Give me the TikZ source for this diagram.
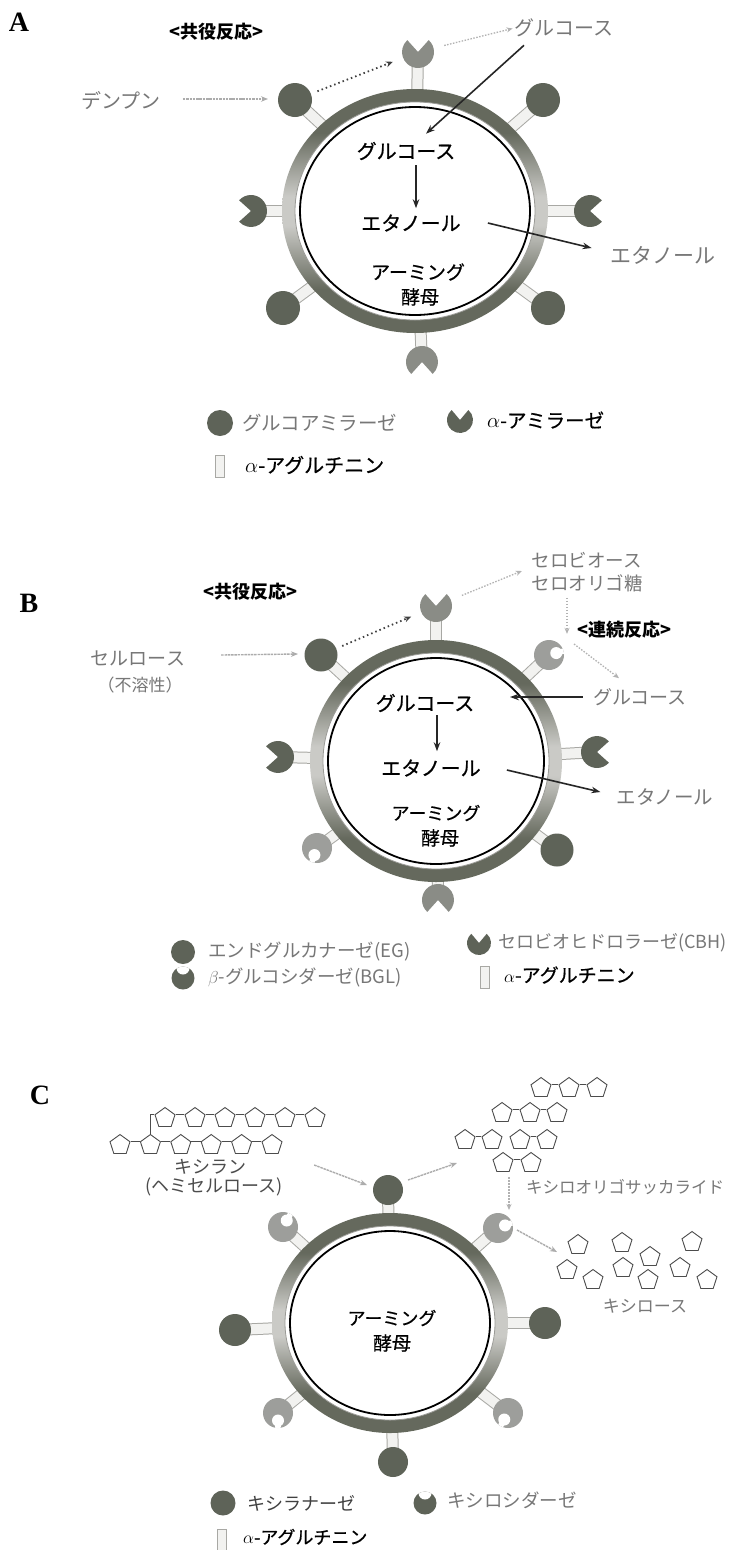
\documentclass[tikz,border=0pt]{standalone}
\usepackage{fontspec}
\newfontfamily\jp{Noto Sans CJK JP}
\newfontfamily\jpm{Noto Sans CJK JP}[FakeBold=0.6]
\newfontfamily\lettfont{Liberation Serif}
\usetikzlibrary{arrows.meta,calc,shapes.geometric}

\definecolor{enzdark}{HTML}{5E6358}
\definecolor{enzmid}{HTML}{8A8C86}
\definecolor{enzlight}{HTML}{9D9E9B}
\definecolor{ringdark}{HTML}{65695D}
\definecolor{ringlight}{HTML}{CACAC6}
\definecolor{ringline}{HTML}{9A9A96}
\definecolor{txtgray}{HTML}{777777}
\definecolor{stalkfill}{HTML}{F2F2F0}
\definecolor{stalkedge}{HTML}{A8A8A4}

\pgfdeclareverticalshading{ringshade}{100bp}{color(0bp)=(ringdark); color(34bp)=(ringdark); color(47bp)=(ringlight); color(53bp)=(ringlight); color(66bp)=(ringdark); color(100bp)=(ringdark)}

\newcommand{\jpsz}[1]{\fontsize{#1}{#1}\selectfont}
% yeast cell wall: shaded band, white gap, black membrane
\newcommand{\yeast}[3]{%
  \shade[shading=ringshade] (#1) ellipse[x radius=#2, y radius=#3];
  \fill[white] (#1) ellipse[x radius=#2-13, y radius=#3-13];
  \draw[ringline, line width=0.8pt] (#1) ellipse[x radius=#2-13, y radius=#3-13];
  \draw[black, line width=1.8pt] (#1) ellipse[x radius=#2-18, y radius=#3-18];}
% anchor protein from cell to enzyme
\newcommand{\stalk}[2]{%
  \draw[line width=12pt, stalkedge, shorten >=6pt] (#1) -- (#2);
  \draw[line width=10pt, stalkfill, shorten >=6pt] (#1) -- (#2);}
% enzyme with a V-shaped cleft (centre, opening direction, colour)
\newcommand{\enzPac}[3]{%
  \fill[#3] (#1) -- ++(#2+42:16) arc[start angle=#2+42, end angle=#2+318, radius=16] -- cycle;}
% enzyme with a round pocket (centre, pocket direction, colour)
\newcommand{\enzCup}[3]{%
  \fill[#3] (#1) circle[radius=15];
  \begin{scope}
    \clip (#1) circle[radius=15];
    \fill[white] ($(#1)+(#2:7.5)$) circle[radius=6];
    \draw[white, line width=5.5pt] ($(#1)+(#2:7.5)$) -- ($(#1)+(#2:18)$);
  \end{scope}}
% legend icon: disc with a wide round bite on top
\newcommand{\legCup}[2]{%
  \fill[#2] (#1) circle[radius=11.5];
  \begin{scope}
    \clip (#1) circle[radius=11.5];
    \fill[white] ($(#1)+(0,-10)$) circle[radius=6.5];
  \end{scope}}
\newcommand{\enzBall}[3]{\fill[#3] (#1) circle[radius=#2];}
\newcommand{\aglut}[1]{%
  \draw[stalkedge, fill=stalkfill, line width=0.8pt] ($(#1)+(-4.5,-11)$) rectangle ($(#1)+(4.5,11)$);}

\begin{document}
\begin{tikzpicture}[x=1pt,y=-1pt,
  panel/.style={font=\lettfont\bfseries\jpsz{28}, inner sep=0pt},
  lbl/.style={font=\jpm\jpsz{20}, inner sep=0pt, text=black},
  glbl/.style={font=\jp\jpsz{20}, inner sep=0pt, text=txtgray},
  blbl/.style={font=\jp\bfseries\jpsz{18}, inner sep=0pt, text=black},
  leg/.style={lbl, anchor=west},
  gleg/.style={glbl, anchor=west},
  barrow/.style={draw=black!85, line width=1.6pt, -{Stealth[length=9pt,width=6.5pt]}},
  garrow/.style={draw=gray!65, line width=1.4pt, dash pattern=on 2.5pt off 0.8pt, -{Stealth[length=7pt,width=5.5pt]}},
  gdot/.style={draw=gray!60, line width=1.3pt, dash pattern=on 1.5pt off 1.5pt, -{Stealth[length=6pt,width=5pt]}},
  darrow/.style={draw=black!75, line width=1.8pt, dash pattern=on 1.5pt off 3pt, -{Stealth[length=7pt,width=6pt]}},
  pent/.style={regular polygon, regular polygon sides=5, minimum size=21pt, draw=black!70, line width=0.9pt, inner sep=0pt},
  link/.style={draw=black!70, line width=0.9pt}]
\fill[white] (0,0) rectangle (739,1550);
\useasboundingbox (0,0) rectangle (739,1550);

% ================= A: starch =================
\node[panel] (A) at (19,22) {A};
\node[blbl] (a-conj) at (216,32) {<共役反応>};
\coordinate (a-c) at (415,211);
\coordinate (a-e1) at (418,52);
\coordinate (a-e2) at (295,100);
\coordinate (a-e3) at (543,100);
\coordinate (a-e4) at (251,211);
\coordinate (a-e5) at (590,211);
\coordinate (a-e6) at (283,308);
\coordinate (a-e7) at (548,308);
\coordinate (a-e8) at (422,362);
\foreach \e in {1,...,8} {\stalk{a-c}{a-e\e}}
\yeast{a-c}{133}{122}
\enzPac{a-e1}{-90}{enzmid}
\enzBall{a-e2}{17}{enzdark}
\enzBall{a-e3}{17}{enzdark}
\enzPac{a-e4}{180}{enzdark}
\enzPac{a-e5}{0}{enzdark}
\enzBall{a-e6}{17}{enzdark}
\enzBall{a-e7}{17}{enzdark}
\enzPac{a-e8}{90}{enzmid}

\node[glbl] (a-starch) at (121,101) {デンプン};
\node[glbl] (a-glc) at (564,28) {グルコース};
\node[lbl] (a-glcin) at (406,151) {グルコース};
\node[lbl] (a-eth) at (411,223) {エタノール};
\node[glbl, font=\jp\jpsz{21}] (a-ethout) at (663,255) {エタノール};
\node[lbl, font=\jpm\jpsz{19}] (a-arm) at (418,272) {アーミング};
\node[lbl, font=\jpm\jpsz{19}] (a-yeast) at (420,297) {酵母};

\draw[garrow] ($(a-starch.east)+(22,-2)$) -- ($(a-e2)+(-27,-1)$);
\draw[darrow, shorten <=24pt, shorten >=27pt] (a-e2) -- (a-e1);
\draw[gdot, shorten <=27pt, shorten >=2pt] (a-e1) -- (a-glc.west);
\draw[barrow] ($(a-glc.south)+(-40,8)$) -- ($(a-glcin.north)+(20,-8)$);
\draw[barrow] ($(a-glcin.south)+(10,5)$) -- ($(a-eth.north)+(5,-6)$);
\draw[barrow] ($(a-eth.east)+(27,0)$) -- ($(a-ethout.west)+(-19,-7)$);

% legend A
\coordinate (a-l1) at (220,423);
\coordinate (a-l2) at (460,420);
\coordinate (a-l3) at (220,466);
\enzBall{a-l1}{13}{enzdark}
\fill[enzdark] (a-l2) -- ++(-50:13) arc[start angle=-50, end angle=230, radius=13] -- cycle;
\aglut{a-l3}
\node[gleg, font=\jp\jpsz{19.5}] (a-t1) at (242,423) {グルコアミラーゼ};
\node[leg, font=\jpm\jpsz{19.5}] (a-t2) at (487,420) {$\alpha$-アミラーゼ};
\node[leg, font=\jpm\jpsz{20}] (a-t3) at (245,465) {$\alpha$-アグルチニン};

% ================= B: cellulose =================
\node[panel] (B) at (29,603) {B};
\node[blbl] (b-conj) at (250,592) {<共役反応>};
\coordinate (b-c) at (436,761);
\coordinate (b-e1) at (436,606);
\coordinate (b-e2) at (321,655);
\coordinate (b-e3) at (549,655);
\coordinate (b-e4) at (278,757);
\coordinate (b-e5) at (597,752);
\coordinate (b-e6) at (317,848);
\coordinate (b-e7) at (557,850);
\coordinate (b-e8) at (438,900);
\foreach \e in {1,...,8} {\stalk{b-c}{b-e\e}}
\yeast{b-c}{126}{121}
\enzPac{b-e1}{-90}{enzmid}
\enzBall{b-e2}{16.5}{enzdark}
\enzCup{b-e3}{-15}{enzlight}
\enzPac{b-e4}{180}{enzdark}
\enzPac{b-e5}{0}{enzdark}
\enzCup{b-e6}{110}{enzlight}
\enzBall{b-e7}{16.5}{enzdark}
\enzPac{b-e8}{90}{enzmid}

\node[glbl, font=\jp\jpsz{19}] (b-cellu) at (138,658) {セルロース};
\node[glbl, font=\jp\jpsz{17}] (b-insol) at (140,685) {（不溶性）};
\node[glbl, font=\jp\jpsz{18.5}] (b-cb) at (587,560) {セロビオース};
\node[glbl, font=\jp\jpsz{18.5}] (b-co) at (587,583) {セロオリゴ糖};
\node[blbl] (b-cont) at (624,630) {<連続反応>};
\node[glbl, font=\jp\jpsz{19}] (b-glc) at (640,697) {グルコース};
\node[lbl] (b-glcin) at (425,703) {グルコース};
\node[lbl] (b-eth) at (431,768) {エタノール};
\node[glbl, font=\jp\jpsz{19.5}] (b-ethout) at (665,797) {エタノール};
\node[lbl, font=\jpm\jpsz{18}] (b-arm) at (436,813) {アーミング};
\node[lbl, font=\jpm\jpsz{19}] (b-yeast) at (440,838) {酵母};

\draw[garrow] ($(b-cellu.east)+(36,-3)$) -- ($(b-e2)+(-23,-1)$);
\draw[darrow, shorten <=23pt, shorten >=27pt] (b-e2) -- (b-e1);
\draw[gdot, shorten <=28pt] (b-e1) -- ($(b-cb.west)+(-10,11)$);
\draw[gdot] ($(b-co.south)+(-20,6)$) -- ($(b-co.south)+(-20,42)$);
\draw[gdot] ($(b-e3)+(25,-11)$) -- ($(b-glc.north)+(-21,-10)$);
\draw[barrow] ($(b-glc.west)+(-10,0)$) -- ($(b-glc.west)+(-83,0)$);
\draw[barrow] ($(b-glcin.south)+(12,3)$) -- ($(b-eth.north)+(6,-8)$);
\draw[barrow] ($(b-eth.east)+(26,2)$) -- ($(b-ethout.west)+(-16,-5)$);

% legend B
\coordinate (b-l1) at (183,952);
\coordinate (b-l2) at (479,943);
\coordinate (b-l3) at (183,978);
\coordinate (b-l4) at (485,977);
\enzBall{b-l1}{12}{enzdark}
\fill[enzdark] (b-l2) -- ++(-50:12) arc[start angle=-50, end angle=230, radius=12] -- cycle;
\legCup{b-l3}{enzdark}
\aglut{b-l4}
\node[gleg, font=\jp\jpsz{18.5}] (b-t1) at (208,952) {エンドグルカナーゼ(EG)};
\node[gleg, font=\jp\jpsz{18}] (b-t2) at (498,943) {セロビオヒドロラーゼ(CBH)};
\node[gleg, font=\jp\jpsz{18.5}] (b-t3) at (208,977) {$\beta$-グルコシダーゼ(BGL)};
\node[leg, font=\jpm\jpsz{19}] (b-t4) at (504,975) {$\alpha$-アグルチニン};

% ================= C: xylan =================
\node[panel] (C) at (40,1095) {C};
% xylan chain
\foreach \i in {1,...,6} {
  \node[pent] (c-t\i) at ({165+30*(\i-1)},1118) {};
  \node[pent] (c-b\i) at ({120+30.4*(\i-1)},1145) {};
}
\foreach \i/\j in {1/2,2/3,3/4,4/5,5/6} {
  \draw[link] (c-t\i.corner 5) -- (c-t\j.corner 2);
  \draw[link] (c-b\i.corner 5) -- (c-b\j.corner 2);
}
\draw[link] (c-b2.corner 1) |- (c-t1.corner 2);
% xylo-oligosaccharides
\node[pent] (c-o11) at (541,1088) {};
\node[pent] (c-o12) at (569,1088) {};
\node[pent] (c-o13) at (597,1088) {};
\node[pent] (c-o21) at (502,1113) {};
\node[pent] (c-o22) at (530,1113) {};
\node[pent] (c-o23) at (557,1113) {};
\node[pent] (c-o31) at (465,1140) {};
\node[pent] (c-o32) at (492,1140) {};
\node[pent] (c-o33) at (520,1140) {};
\node[pent] (c-o34) at (547,1140) {};
\node[pent] (c-o41) at (503,1163) {};
\node[pent] (c-o42) at (531,1163) {};
\foreach \a/\b in {o11/o12,o12/o13,o21/o22,o22/o23,o31/o32,o33/o34,o41/o42}
  \draw[link] (c-\a.corner 5) -- (c-\b.corner 2);
% xylose
\foreach \n/\p in {1/{578,1245},2/{622,1243},3/{692,1242},4/{650,1257},5/{567,1270},6/{623,1268},7/{680,1268},8/{593,1280},9/{648,1280},10/{707,1280}}
  \node[pent] (c-x\n) at (\p) {};

\coordinate (c-c) at (390,1323);
\coordinate (c-e1) at (388,1190);
\coordinate (c-e2) at (283,1227);
\coordinate (c-e3) at (498,1228);
\coordinate (c-e4) at (235,1330);
\coordinate (c-e5) at (545,1323);
\coordinate (c-e6) at (278,1413);
\coordinate (c-e7) at (508,1413);
\coordinate (c-e8) at (393,1462);
\foreach \e in {1,...,8} {\stalk{c-c}{c-e\e}}
\yeast{c-c}{118}{110}
\enzBall{c-e1}{15}{enzdark}
\enzCup{c-e2}{-60}{enzlight}
\enzCup{c-e3}{-20}{enzlight}
\enzBall{c-e4}{16}{enzdark}
\enzBall{c-e5}{16}{enzdark}
\enzCup{c-e6}{90}{enzlight}
\enzCup{c-e7}{120}{enzlight}
\enzBall{c-e8}{15}{enzdark}

\node[glbl, text=black!70, font=\jp\jpsz{18}] (c-xyl) at (210,1167) {キシラン};
\node[glbl, text=black!70, font=\jp\jpsz{18}] (c-hemi) at (214,1187) {(ヘミセルロース)};
\node[glbl, font=\jp\jpsz{16.5}] (c-xos) at (625,1187) {キシロオリゴサッカライド};
\node[glbl, font=\jp\jpsz{17}] (c-xylose) at (645,1306) {キシロース};
\node[lbl, font=\jpm\jpsz{18}] (c-arm) at (392,1318) {アーミング};
\node[lbl, font=\jpm\jpsz{19}] (c-yeast) at (392,1343) {酵母};

\draw[garrow] ($(c-xyl.east)+(68,-2)$) -- ($(c-e1)+(-21,-5)$);
\draw[garrow] ($(c-e1)+(20,-10)$) -- ($(c-o41)+(-46,0)$);
\draw[gdot] ($(c-o41)+(6,14)$) -- ($(c-o41)+(6,47)$);
\draw[garrow] ($(c-e3)+(19,2)$) -- ($(c-x1)+(-21,7)$);

% legend C
\coordinate (c-l1) at (223,1503);
\coordinate (c-l2) at (425,1503);
\coordinate (c-l3) at (222,1540);
\enzBall{c-l1}{12.5}{enzdark}
\legCup{c-l2}{enzdark}
\aglut{c-l3}
\node[gleg, text=black!75, font=\jp\jpsz{18}] (c-t1) at (247,1503) {キシラナーゼ};
\node[gleg, font=\jp\jpsz{18.5}] (c-t2) at (447,1500) {キシロシダーゼ};
\node[leg, font=\jpm\jpsz{18}] (c-t3) at (243,1537) {$\alpha$-アグルチニン};
\end{tikzpicture}
\end{document}
